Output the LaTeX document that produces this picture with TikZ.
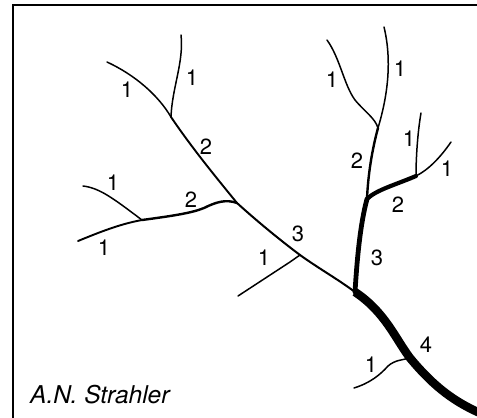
\documentclass[tikz,border=0pt]{standalone}
\usepackage{fontspec}
\setmainfont{TeX Gyre Heros}
\begin{document}
\begin{tikzpicture}[x=1pt,y=-1pt,
  ord/.style={inner sep=0pt,font=\fontsize{22}{22}\selectfont},
  s1/.style={line width=1.5pt,line cap=round,line join=round},
  s1t/.style={line width=1.9pt,line cap=round,line join=round},
  s2/.style={line width=2.4pt,line cap=round,line join=round},
  s2t/.style={line width=4.2pt,line cap=round,line join=round},
  s3/.style={line width=2pt,line cap=round,line join=round},
  s3t/.style={line width=4.8pt,line cap=round,line join=round},
  s4/.style={line width=8.5pt,line join=round}]
\useasboundingbox (0,0) rectangle (477,418);
% frame
\draw[line width=1.5pt] (13,418) -- (13,5) -- (477,5);
% junctions
\coordinate (a0) at (107,62);
\coordinate (b0) at (181,35);
\coordinate (J1) at (171,117);
\coordinate (J2) at (237,203);
\coordinate (c0) at (83,186);
\coordinate (d0) at (78,241);
\coordinate (JL) at (142,220);
\coordinate (J3) at (300,255);
\coordinate (e0) at (238,296);
\coordinate (J4) at (355,292);
\coordinate (f0) at (327,40);
\coordinate (g0) at (384,27);
\coordinate (J5) at (378,128);
\coordinate (h0) at (421,113);
\coordinate (i0) at (451,142);
\coordinate (J7) at (416,176);
\coordinate (J6) at (367,199);
\coordinate (J8) at (410,358);
\coordinate (j0) at (354,388);
\coordinate (out) at (480,413);
% left system
\draw[s1] (a0) .. controls (135,75) and (158,95) .. (J1);
\draw[s1] (b0) .. controls (184,62) and (172,88) .. (J1);
\draw[s1t] (J1) .. controls (192,148) and (215,176) .. (J2);
\draw[s1] (c0) .. controls (100,188) and (114,199) .. (JL);
\draw[s1t] (d0) .. controls (100,232) and (120,224) .. (JL);
\draw[s2] (JL) .. controls (172,216) and (192,213) .. (204,208) .. controls (216,202) and (226,199) .. (J2);
\draw[s3] (J2) .. controls (258,222) and (280,240) .. (J3);
\draw[s3] (J3) .. controls (318,268) and (336,278) .. (J4);
\draw[s1] (e0) -- (290,262) -- (J3);
% right system
\draw[s1] (f0) .. controls (340,58) and (344,85) .. (355,100) .. controls (365,112) and (375,118) .. (J5);
\draw[s1] (g0) .. controls (392,60) and (388,95) .. (J5);
\draw[s2] (J5) .. controls (372,150) and (368,175) .. (J6);
\draw[s1] (h0) .. controls (418,130) and (416,155) .. (J7);
\draw[s1] (i0) .. controls (440,158) and (428,170) .. (J7);
\draw[s2t] (J7) .. controls (395,185) and (376,190) .. (J6);
\draw[s3t] (J6) .. controls (360,225) and (357,260) .. (J4);
\draw[s4] (J4) .. controls (385,312) and (395,338) .. (J8) .. controls (430,382) and (450,400) .. (out);
\draw[s1] (j0) .. controls (370,383) and (380,375) .. (388,366) .. controls (395,360) and (402,360) .. (J8);
% order labels
\node[ord] (l1) at (127,90) {1};
\node[ord] (l2) at (192,78) {1};
\node[ord] (l3) at (206,147) {2};
\node[ord] (l4) at (113,183) {1};
\node[ord] (l5) at (191,200) {2};
\node[ord] (l6) at (104,248) {1};
\node[ord] (l7) at (332,80) {1};
\node[ord] (l8) at (400,69) {1};
\node[ord] (l9) at (357,161) {2};
\node[ord] (l10) at (409,139) {1};
\node[ord] (l11) at (447,169) {1};
\node[ord] (l12) at (398,205) {2};
\node[ord] (l13) at (298,234) {3};
\node[ord] (l14) at (264,258) {1};
\node[ord] (l15) at (377,258) {3};
\node[ord] (l16) at (426,345) {4};
\node[ord] (l17) at (371,365) {1};
\node[inner sep=0pt,anchor=base west,font=\fontsize{24.5}{24.5}\selectfont\itshape] (auth) at (30,403) {A.N. Strahler};
\end{tikzpicture}
\end{document}
